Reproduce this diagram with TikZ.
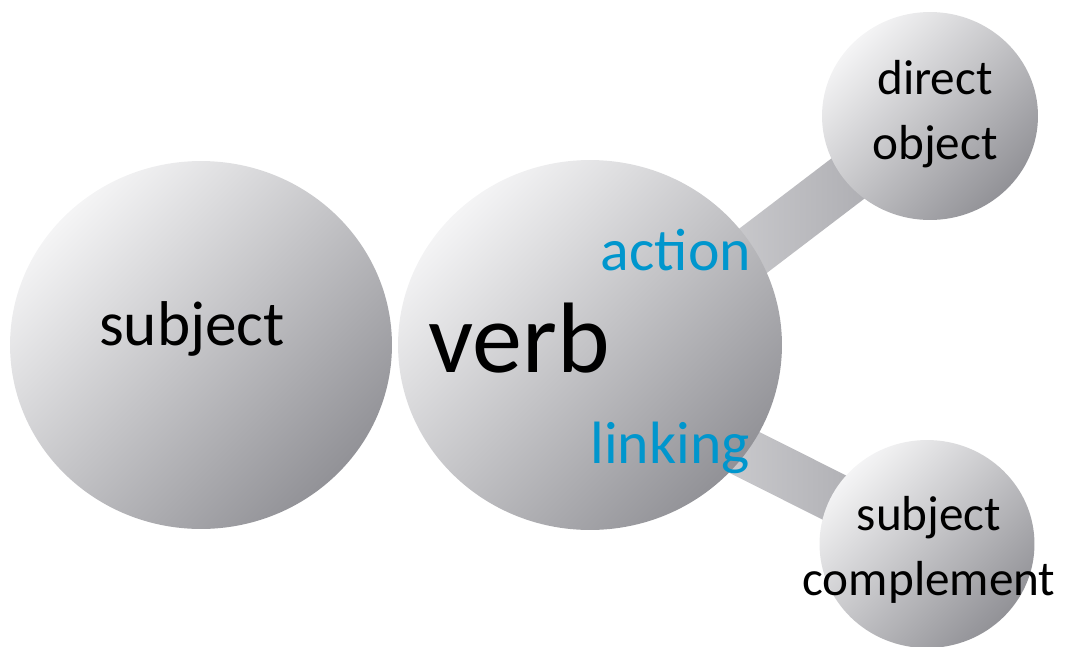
\documentclass[tikz,border=0pt]{standalone}
\usepackage{fontspec}
\setmainfont{Carlito}
\usetikzlibrary{calc}
\usetikzlibrary{shapes.geometric}
\usetikzlibrary{backgrounds}
\definecolor{ballhi}{RGB}{244,244,245}
\definecolor{balllo}{RGB}{146,146,151}
\definecolor{barhi}{RGB}{230,230,232}
\definecolor{barlo}{RGB}{160,160,165}
\definecolor{kindblue}{RGB}{0,150,205}
\tikzset{
   ball/.style={ellipse, inner sep=0pt,
      top color=ballhi, bottom color=balllo, shading angle=45},
   bar/.style={left color=barhi, right color=barlo},
   word/.style={anchor=base, inner sep=0pt, text=black},
   kind/.style={anchor=base, inner sep=0pt, text=kindblue,
      font=\fontsize{34}{40}\selectfont},
   small/.style={inner sep=0pt, align=center, font=\fontsize{28}{37}\selectfont},
    }

\begin{document}
\begin{tikzpicture}[x=0.02cm, y=-0.02cm]
            \useasboundingbox (0,0) rectangle (1065,646);
            % the four balls
            \node[ball, minimum width=7.64cm, minimum height=7.36cm] (subj) at (201,345) {};
            \node[ball, minimum width=7.68cm, minimum height=7.40cm] (verb) at (590,345) {};
            \node[ball, minimum width=4.32cm, minimum height=4.16cm] (dobj) at (930,116) {};
            \node[ball, minimum width=4.30cm, minimum height=4.16cm] (scomp) at (927,544) {};
            \coordinate (hub) at (590,375);
            % bars behind the balls
            \begin{pgfonlayer}{background}
            \shade[bar] ($(hub)!0.52cm!90:(dobj)$) -- ($(dobj)!0.52cm!-90:(hub)$)
                 -- ($(dobj)!0.52cm!90:(hub)$) -- ($(hub)!0.52cm!-90:(dobj)$) -- cycle;
            \shade[bar] ($(hub)!0.5cm!90:(scomp)$) -- ($(scomp)!0.5cm!-90:(hub)$)
                 -- ($(scomp)!0.5cm!90:(hub)$) -- ($(hub)!0.5cm!-90:(scomp)$) -- cycle;
            \end{pgfonlayer}
            % words
            \node[word, font=\fontsize{36}{40}\selectfont] (subjtext) at (192,345) {subject};
            \node[word, font=\fontsize{57}{60}\selectfont] (verbtext) at (519,372) {verb};
            \node[kind] (action) at (676,270) {action};
            \node[kind] (linking) at (670,463) {linking};
            \node[small] (dobjtext) at (935,114) {direct\\object};
            \node[small] (scomptext) at (929,550) {subject\\complement};
        \end{tikzpicture}
\end{document}
